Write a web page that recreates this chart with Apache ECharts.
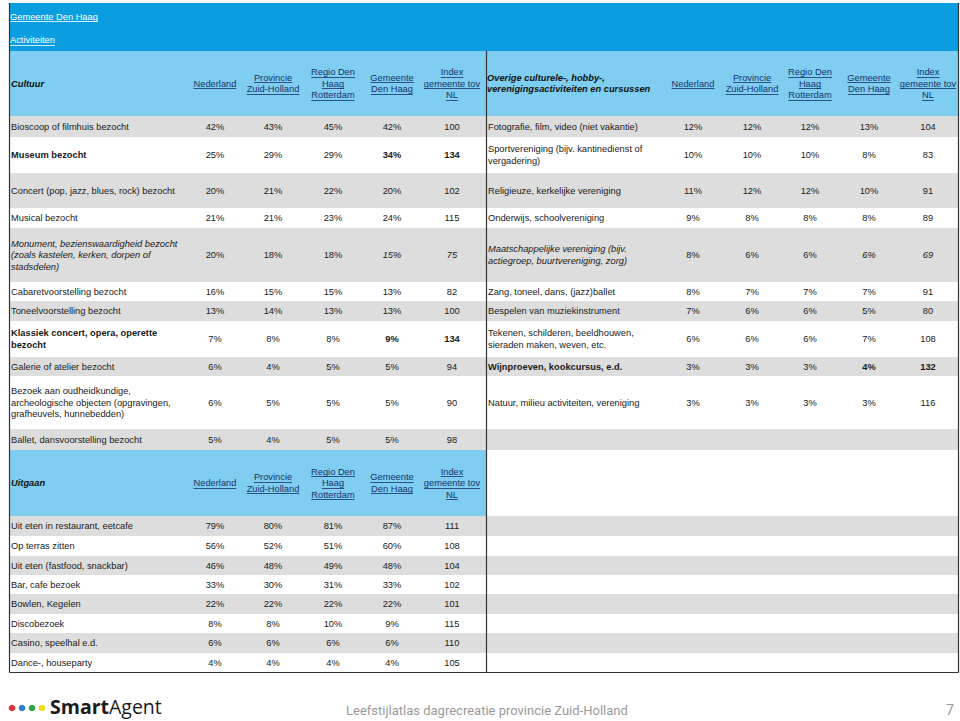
<!DOCTYPE html>
<html><head><meta charset="utf-8">
<script src="https://cdn.jsdelivr.net/npm/echarts@6/dist/echarts.min.js"></script>
<style>html,body{margin:0;padding:0;background:#fff}#c{width:960px;height:721px}</style>
</head><body><div id="c"></div>
<script>
// ================= DATA =================
const bannerRegion = 'Gemeente Den Haag';
const bannerTitle = 'Activiteiten';
const columnHeaders = ['Nederland', 'Provincie\nZuid-Holland', 'Regio Den\nHaag\nRotterdam', 'Gemeente\nDen Haag', 'Index\ngemeente tov\nNL'];

const cultuurTitle = 'Cultuur';
const cultuurActiviteiten = [
  'Bioscoop of filmhuis bezocht',
  'Museum bezocht',
  'Concert (pop, jazz, blues, rock) bezocht',
  'Musical bezocht',
  'Monument, bezienswaardigheid bezocht\n(zoals kastelen, kerken, dorpen of\nstadsdelen)',
  'Cabaretvoorstelling bezocht',
  'Toneelvoorstelling bezocht',
  'Klassiek concert, opera, operette\nbezocht',
  'Galerie of atelier bezocht',
  'Bezoek aan oudheidkundige,\narcheologische objecten (opgravingen,\ngrafheuvels, hunnebedden)',
  'Ballet, dansvoorstelling bezocht'
];
const cultuurNederland = [42, 25, 20, 21, 20, 16, 13, 7, 6, 6, 5];
const cultuurProvincie = [43, 29, 21, 21, 18, 15, 14, 8, 4, 5, 4];
const cultuurRegio     = [45, 29, 22, 23, 18, 15, 13, 8, 5, 5, 5];
const cultuurGemeente  = [42, 34, 20, 24, 15, 13, 13, 9, 5, 5, 5];
const cultuurIndex     = [100, 134, 102, 115, 75, 82, 100, 134, 94, 90, 98];

const overigeTitle = 'Overige culturele-, hobby-,\nverenigingsactiviteiten en cursussen';
const overigeActiviteiten = [
  'Fotografie, film, video (niet vakantie)',
  'Sportvereniging (bijv. kantinedienst of\nvergadering)',
  'Religieuze, kerkelijke vereniging',
  'Onderwijs, schoolvereniging',
  'Maatschappelijke vereniging (bijv.\nactiegroep, buurtvereniging, zorg)',
  'Zang, toneel, dans, (jazz)ballet',
  'Bespelen van muziekinstrument',
  'Tekenen, schilderen, beeldhouwen,\nsieraden maken, weven, etc.',
  'Wijnproeven, kookcursus, e.d.',
  'Natuur, milieu activiteiten, vereniging'
];
const overigeNederland = [12, 10, 11, 9, 8, 8, 7, 6, 3, 3];
const overigeProvincie = [12, 10, 12, 8, 6, 7, 6, 6, 3, 3];
const overigeRegio     = [12, 10, 12, 8, 6, 7, 6, 6, 3, 3];
const overigeGemeente  = [13, 8, 10, 8, 6, 7, 5, 7, 4, 3];
const overigeIndex     = [104, 83, 91, 89, 69, 91, 80, 108, 132, 116];

const uitgaanTitle = 'Uitgaan';
const uitgaanActiviteiten = [
  'Uit eten in restaurant, eetcafe',
  'Op terras zitten',
  'Uit eten (fastfood, snackbar)',
  'Bar, cafe bezoek',
  'Bowlen, Kegelen',
  'Discobezoek',
  'Casino, speelhal e.d.',
  'Dance-, houseparty'
];
const uitgaanNederland = [79, 56, 46, 33, 22, 8, 6, 4];
const uitgaanProvincie = [80, 52, 48, 30, 22, 8, 6, 4];
const uitgaanRegio     = [81, 51, 49, 31, 22, 10, 6, 4];
const uitgaanGemeente  = [87, 60, 48, 33, 22, 9, 6, 4];
const uitgaanIndex     = [111, 108, 104, 102, 101, 115, 110, 105];

const footerText = 'Leefstijlatlas dagrecreatie provincie Zuid-Holland';
const pageNumber = '7';
const logoBold = 'Smart';
const logoRegular = 'Agent';

// ================= LAYOUT (table units on the axes) =================
const TL = 10, TR = 958, DIV = 486;
const BANNER_TOP = 3, HEADER_TOP = 51, HEADER_BOTTOM = 116;
const cultuurRowHeights = [21, 36, 35, 20, 54, 19, 20, 36, 19, 53, 21];
const uitgaanHeaderHeight = 66;
const uitgaanRowHeights = [20, 20, 19, 19, 20, 19, 20, 19];
const leftCols = [215, 273, 333, 392, 452];
const rightCols = [693, 752, 810, 869, 928];
const LEFT_LABEL_X = 11, RIGHT_LABEL_X = 488;

const FONT = 'Liberation Sans, Arial, sans-serif';
const FS = 9.3, LH = 11.5;
const C_BANNER = '#0a9ee0', C_HEADER = '#7fcdf1', C_GRAY = '#dddddd';
const C_TEXT = '#1a1a1a', C_LINK = '#17336b', C_BORDER = '#333333';

// ================= BUILD CELLS =================
const bands = [];   // [x0,y0,x1,y1,color]
const texts = [];   // {x,y,text,align,weight,style,underline,color}
const pct = v => v + '%';

bands.push([TL, BANNER_TOP, TR, HEADER_TOP, C_BANNER]);
bands.push([TL, HEADER_TOP, TR, HEADER_BOTTOM, C_HEADER]);
texts.push({x: LEFT_LABEL_X - 1, y: 16.5, text: bannerRegion, align: 'left', underline: true, color: '#ffffff'});
texts.push({x: LEFT_LABEL_X - 1, y: 40, text: bannerTitle, align: 'left', underline: true, color: '#ffffff'});

function headerRow(yc, title, cols, labelX) {
  texts.push({x: labelX, y: yc, text: title, align: 'left', weight: 'bold', style: 'italic', color: '#111'});
  columnHeaders.forEach((h, i) => texts.push({x: cols[i], y: yc, text: h, align: 'center', underline: true, color: C_LINK}));
}
const hc = (HEADER_TOP + HEADER_BOTTOM) / 2;
headerRow(hc, cultuurTitle, leftCols, LEFT_LABEL_X);
headerRow(hc, overigeTitle, rightCols, RIGHT_LABEL_X - 1);

function dataRow(yc, label, vals, idx, cols, labelX) {
  const weight = idx >= 120 ? 'bold' : 'normal';
  const style = idx <= 75 ? 'italic' : 'normal';
  texts.push({x: labelX, y: yc, text: label, align: 'left', weight, style});
  vals.forEach((v, i) => {
    const emph = i === 3;
    texts.push({x: cols[i], y: yc, text: pct(v), align: 'center', weight: emph ? weight : 'normal', style: emph ? style : 'normal'});
  });
  texts.push({x: cols[4], y: yc, text: String(idx), align: 'center', weight, style});
}

let y = HEADER_BOTTOM;
cultuurRowHeights.forEach((h, i) => {
  if (i % 2 === 0) bands.push([TL, y, TR, y + h, C_GRAY]);
  const yc = y + h / 2;
  dataRow(yc, cultuurActiviteiten[i], [cultuurNederland[i], cultuurProvincie[i], cultuurRegio[i], cultuurGemeente[i]], cultuurIndex[i], leftCols, LEFT_LABEL_X);
  if (i < overigeActiviteiten.length)
    dataRow(yc, overigeActiviteiten[i], [overigeNederland[i], overigeProvincie[i], overigeRegio[i], overigeGemeente[i]], overigeIndex[i], rightCols, RIGHT_LABEL_X);
  y += h;
});
bands.push([TL, y, DIV, y + uitgaanHeaderHeight, C_HEADER]);
headerRow(y + uitgaanHeaderHeight / 2, uitgaanTitle, leftCols, LEFT_LABEL_X);
y += uitgaanHeaderHeight;
uitgaanRowHeights.forEach((h, i) => {
  if (i % 2 === 0) bands.push([TL, y, TR, y + h, C_GRAY]);
  dataRow(y + h / 2, uitgaanActiviteiten[i], [uitgaanNederland[i], uitgaanProvincie[i], uitgaanRegio[i], uitgaanGemeente[i]], uitgaanIndex[i], leftCols, LEFT_LABEL_X);
  y += h;
});
const TABLE_BOTTOM = y;
const borders = [
  [TL - 0.5, BANNER_TOP, TL - 0.5, TABLE_BOTTOM + 0.5],
  [TR + 0.5, BANNER_TOP, TR + 0.5, TABLE_BOTTOM + 0.5],
  [TL - 0.5, TABLE_BOTTOM + 0.5, TR + 0.5, TABLE_BOTTOM + 0.5],
  [DIV + 0.5, HEADER_TOP, DIV + 0.5, TABLE_BOTTOM + 0.5]
];

// ================= RENDER =================
const mctx = document.createElement('canvas').getContext('2d');
function measure(t, size, weight, style) {
  mctx.font = `${style || 'normal'} ${weight || 'normal'} ${size}px ${FONT}`;
  return mctx.measureText(t).width;
}

const chart = echarts.init(document.getElementById('c'), null, {renderer: 'svg'});
chart.setOption({
  animation: false,
  grid: {left: 0, right: 0, top: 0, bottom: 0},
  xAxis: {type: 'value', min: 0, max: 960, show: false},
  yAxis: {type: 'value', min: 0, max: 721, inverse: true, show: false},
  series: [
    {
      type: 'custom', silent: true, z: 1,
      data: bands.map(b => b.slice(0, 4)),
      renderItem(params, api) {
        const b = bands[params.dataIndex];
        const p0 = api.coord([b[0], b[1]]), p1 = api.coord([b[2], b[3]]);
        return {type: 'rect', shape: {x: p0[0], y: p0[1], width: p1[0] - p0[0], height: p1[1] - p0[1]}, style: {fill: b[4]}};
      }
    },
    {
      type: 'custom', silent: true, z: 3,
      data: borders,
      renderItem(params, api) {
        const b = borders[params.dataIndex];
        const p0 = api.coord([b[0], b[1]]), p1 = api.coord([b[2], b[3]]);
        return {type: 'line', shape: {x1: p0[0], y1: p0[1], x2: p1[0], y2: p1[1]}, style: {stroke: C_BORDER, lineWidth: 1.2}};
      }
    },
    {
      type: 'custom', silent: true, z: 2,
      data: texts.map(t => [t.x, t.y]),
      renderItem(params, api) {
        const t = texts[params.dataIndex];
        const p = api.coord([t.x, t.y]);
        const lines = t.text.split('\n');
        const n = lines.length;
        const color = t.color || C_TEXT;
        const children = [];
        lines.forEach((ln, k) => {
          const cy = p[1] + (k - (n - 1) / 2) * LH;
          children.push({type: 'text', x: p[0], y: cy, style: {
            text: ln, fill: color, fontSize: FS, fontFamily: FONT,
            fontWeight: t.weight || 'normal', fontStyle: t.style || 'normal',
            align: t.align, verticalAlign: 'middle'
          }});
          if (t.underline) {
            const w = measure(ln, FS, t.weight, t.style);
            const x0 = t.align === 'center' ? p[0] - w / 2 : p[0];
            const uy = Math.round(cy + FS * 0.5) + 0.5;
            children.push({type: 'line', shape: {x1: x0, y1: uy, x2: x0 + w, y2: uy}, style: {stroke: color, lineWidth: 0.8}});
          }
        });
        return {type: 'group', children};
      }
    }
  ],
  graphic: [
    {type: 'circle', shape: {cx: 12, cy: 708, r: 3.3}, style: {fill: '#e2323c'}},
    {type: 'circle', shape: {cx: 22, cy: 708, r: 3.3}, style: {fill: '#2a7fd4'}},
    {type: 'circle', shape: {cx: 32, cy: 708, r: 3.3}, style: {fill: '#2ea44a'}},
    {type: 'circle', shape: {cx: 42, cy: 708, r: 3.3}, style: {fill: '#f3dc1e'}},
    {type: 'text', x: 50, y: 706, style: {
      text: '{b|' + logoBold + '}{r|' + logoRegular + '}', verticalAlign: 'middle',
      rich: {
        b: {fontFamily: 'Open Sans, sans-serif', fontWeight: 'bold', fontSize: 19.5, fill: '#1a1a1a'},
        r: {fontFamily: 'Open Sans, sans-serif', fontWeight: 'normal', fontSize: 19.5, fill: '#1a1a1a'}
      }
    }},
    {type: 'text', x: 346, y: 710, style: {text: footerText, fontFamily: 'Roboto, sans-serif', fontSize: 13, fill: '#9a9a9a', verticalAlign: 'middle'}},
    {type: 'text', x: 950, y: 710, style: {text: pageNumber, fontFamily: 'Roboto, sans-serif', fontSize: 14, fill: '#9a9a9a', align: 'center', verticalAlign: 'middle'}}
  ]
});
</script>
</body></html>
